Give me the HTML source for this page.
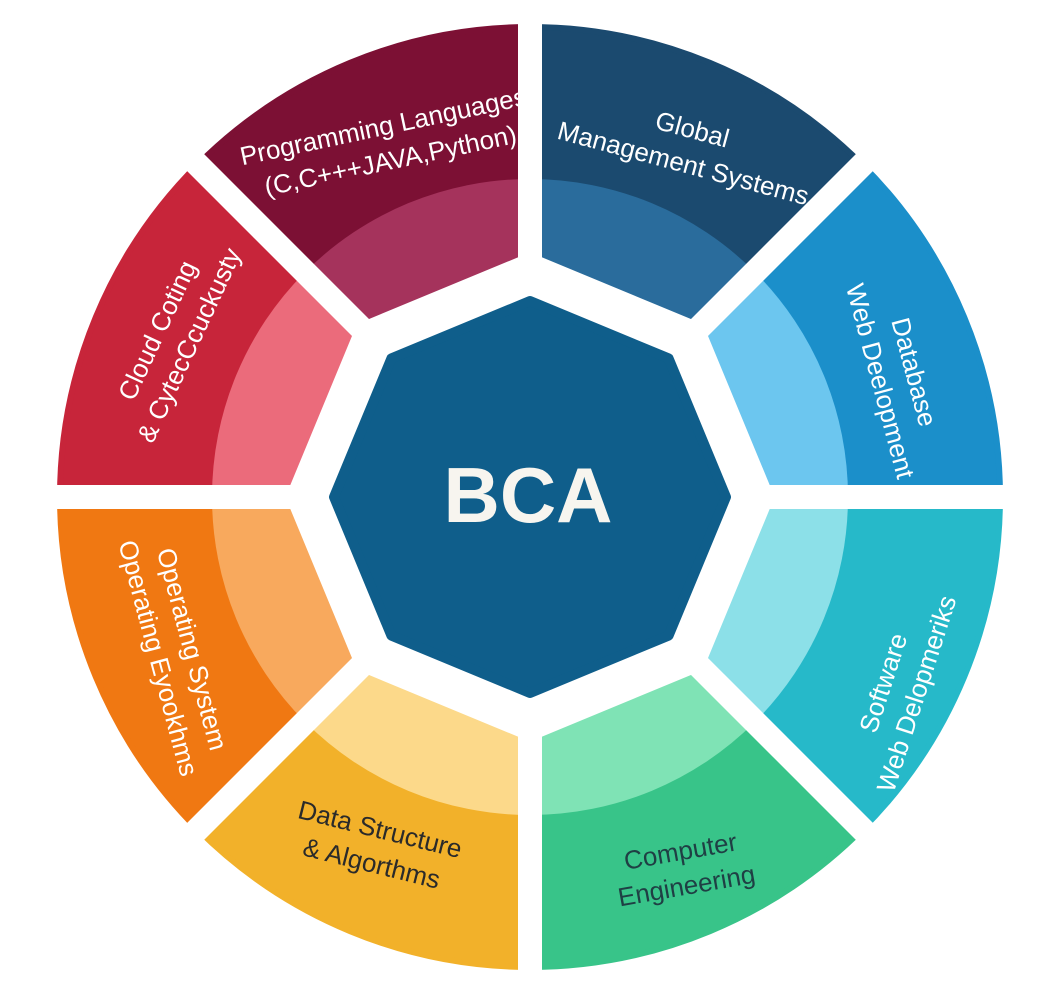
<!DOCTYPE html>
<html><head><meta charset="utf-8">
<style>
html,body{margin:0;padding:0;background:#fff;}
svg{display:block;}
text{font-family:"Liberation Sans",sans-serif;}
</style></head>
<body>
<svg id="s" width="1056" height="992" viewBox="0 0 1056 992" xmlns="http://www.w3.org/2000/svg">
<g id="segs"></g>
<g id="gaps"></g>
<g id="oct"></g>
<text x="528" y="522" text-anchor="middle" font-size="78" font-weight="bold" fill="#f7f5ef" font-family="Liberation Sans,sans-serif">BCA</text>
<g font-size="26" fill="#fff">
<text transform="translate(385,135) rotate(-12)" text-anchor="middle"><tspan x="0" y="0">Programming Languages</tspan><tspan x="0" y="35">(C,C+++JAVA,Python)</tspan></text>
<text transform="translate(690,138) rotate(15)" text-anchor="middle"><tspan x="0" y="0">Global</tspan><tspan x="0" y="35">Management Systems</tspan></text>
<text transform="translate(892,378) rotate(75)" text-anchor="middle"><tspan x="0" y="-14">Database</tspan><tspan x="0" y="21">Web Deelopment</tspan></text>
<text transform="translate(905,690) rotate(-72)" text-anchor="middle"><tspan x="0" y="-14">Software</tspan><tspan x="0" y="21">Web Delopmeriks</tspan></text>
<text transform="translate(170,655) rotate(75)" text-anchor="middle"><tspan x="0" y="-14">Operating System</tspan><tspan x="0" y="21">Operating Eyookhms</tspan></text>
<text transform="translate(178,340) rotate(-65)" text-anchor="middle"><tspan x="0" y="-14">Cloud Coting</tspan><tspan x="0" y="21">&amp; CytecCcuckusty</tspan></text>
</g>
<g font-size="26" fill="#2a2a2a">
<text transform="translate(378,838) rotate(14)" text-anchor="middle"><tspan x="0" y="0">Data Structure</tspan><tspan x="0" y="35">&amp; Algorthms</tspan></text>
<text transform="translate(682,860) rotate(-10)" text-anchor="middle" fill="#1f3f44"><tspan x="0" y="0">Computer</tspan><tspan x="0" y="35">Engineering</tspan></text>
</g>
</svg>
<script>
var cx=530,cy=497,R=470,Rm=318;
var cols=[["#7c1034","#a5335c"],["#1b4a6f","#2a6c9c"],["#1b8fca","#6cc6ef"],["#26b9c9","#8ce0e8"],["#38c489","#7fe3b5"],["#f2b12a","#fcd98a"],["#f07812","#f8a95d"],["#c7253a","#eb6b7b"]];
var starts=[-135,-90,-45,0,45,90,135,180];
function p(r,a){a=a*Math.PI/180;return (cx+r*Math.cos(a)).toFixed(1)+","+(cy+r*Math.sin(a)).toFixed(1);}
function sector(r,a1,a2){return "M"+cx+","+cy+" L"+p(r,a1)+" A"+r+","+r+" 0 0 1 "+p(r,a2)+" Z";}
var h="";
for(var i=0;i<8;i++){var a=starts[i];
h+='<path d="'+sector(R,a,a+45)+'" fill="'+cols[i][0]+'" stroke="'+cols[i][0]+'" stroke-width="6" stroke-linejoin="round"/>';
h+='<path d="'+sector(Rm,a,a+45)+'" fill="'+cols[i][1]+'"/>';}
document.getElementById("segs").innerHTML=h;
var g="";
for(var i=0;i<8;i++){var a=starts[i];var q=p(R+30,a).split(",");g+='<line x1="'+cx+'" y1="'+cy+'" x2="'+q[0]+'" y2="'+q[1]+'" stroke="#fff" stroke-width="24" stroke-linecap="round"/>';}
document.getElementById("gaps").innerHTML=g;
function oct(r){var s="";for(var k=0;k<8;k++){s+=p(r,-90+45*k)+" ";}return s;}
document.getElementById("oct").innerHTML='<polygon points="'+oct(236)+'" fill="#fff" stroke="#fff" stroke-width="16" stroke-linejoin="round"/><polygon points="'+oct(196)+'" fill="#0f5e8b" stroke="#0f5e8b" stroke-width="10" stroke-linejoin="round"/>';
</script>
</body></html>
